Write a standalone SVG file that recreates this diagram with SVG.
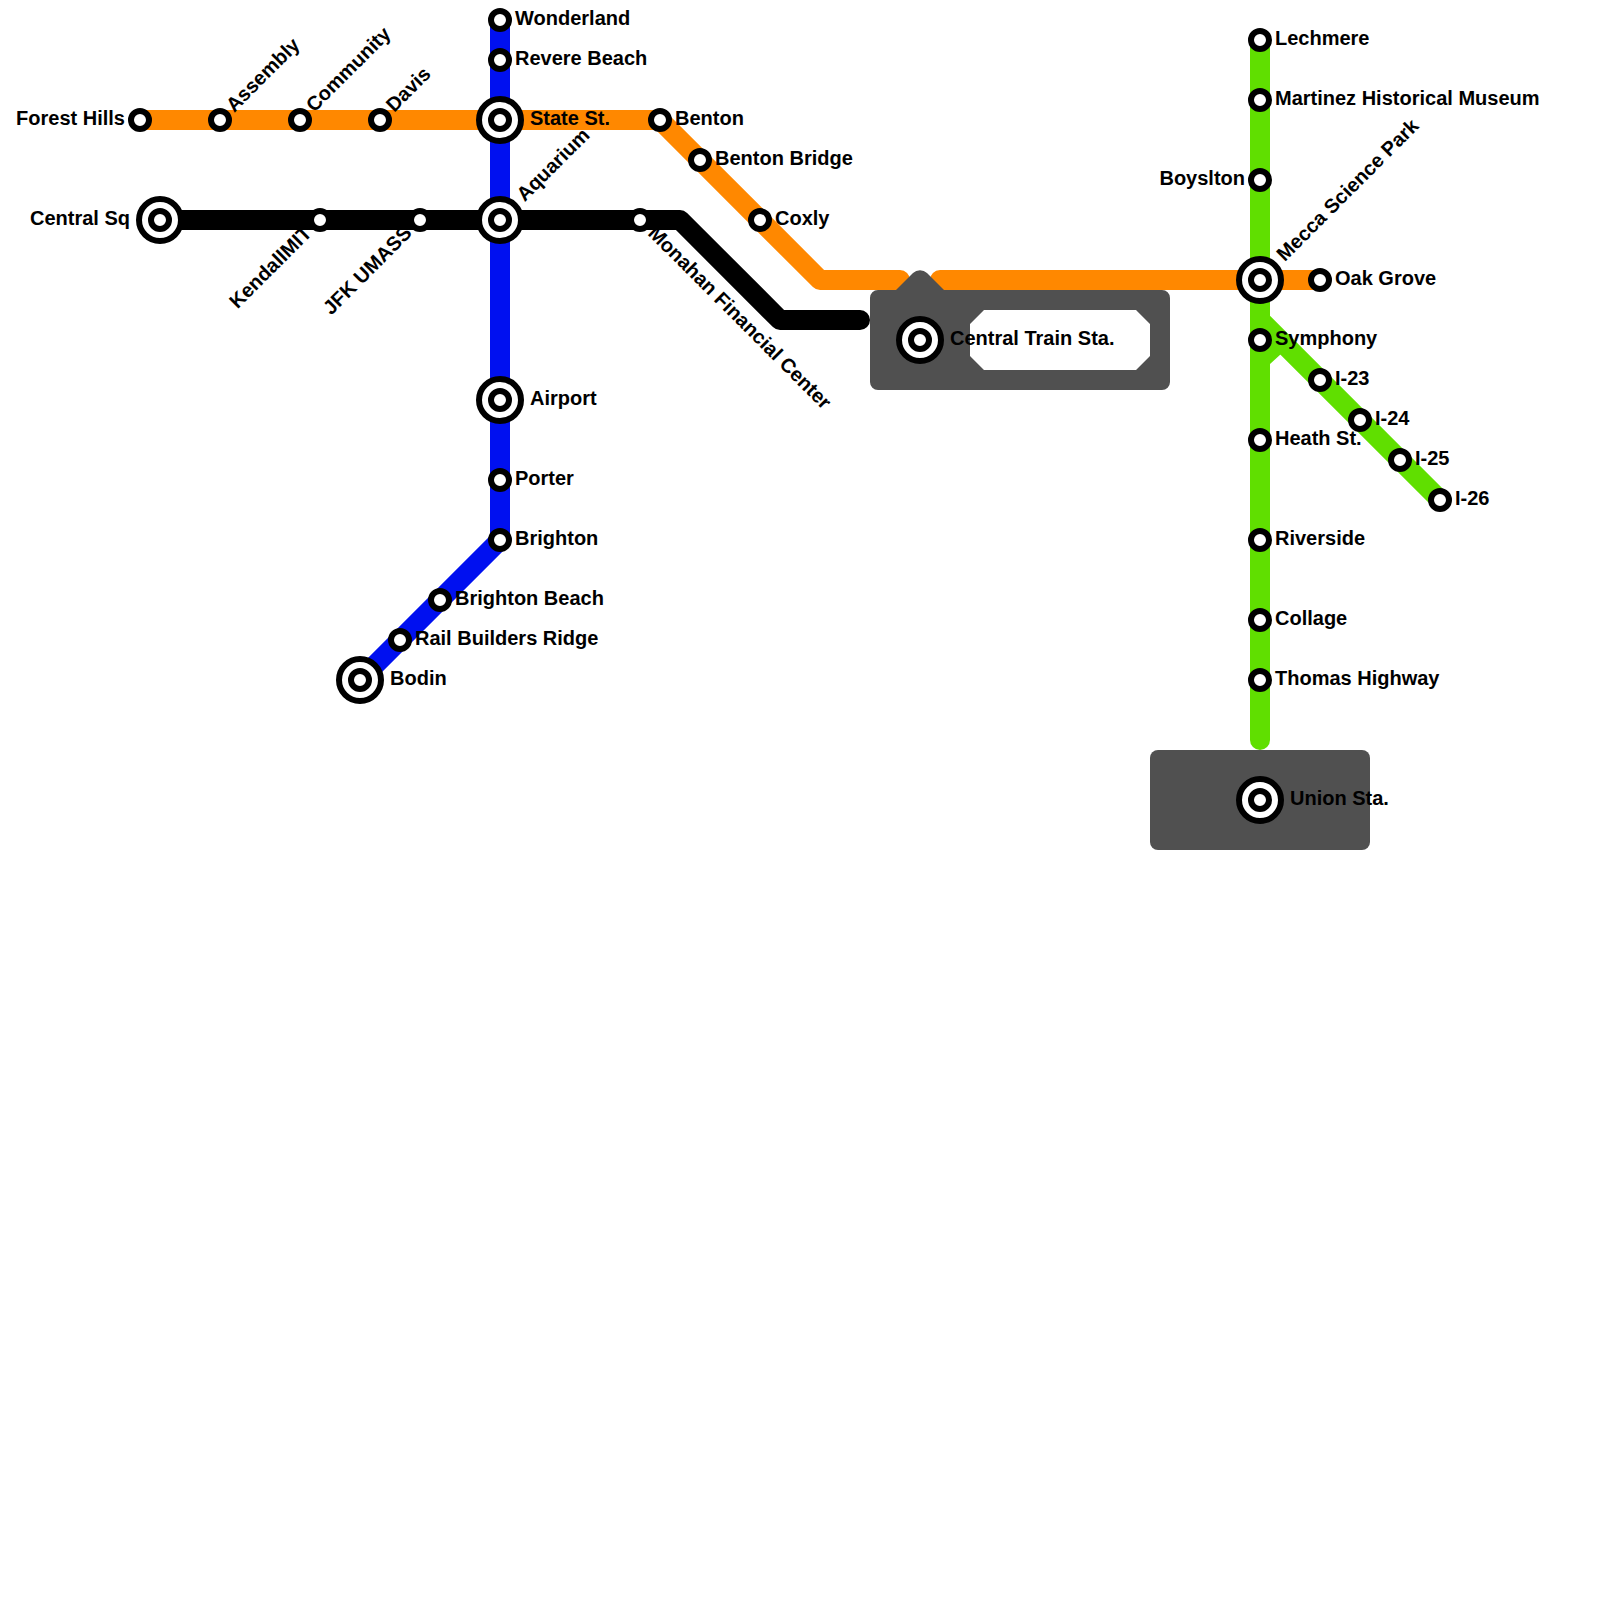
<svg xmlns="http://www.w3.org/2000/svg" width="1600" height="1600" viewBox="0 0 1600 1600">
<style>
.l{fill:none;stroke-width:20;stroke-linecap:round;stroke-linejoin:round}
.o{stroke:#ff8800}.k{stroke:#000}.b{stroke:#0010f0}.g{stroke:#60df00}
.s{fill:#fff;stroke:#000;stroke-width:6}
.r{fill:#fff;stroke:#000;stroke-width:6}
.h{fill:#505050}
text{font-family:"Liberation Sans",Arial,sans-serif;font-weight:700;font-size:20px;fill:#000}
.e{text-anchor:end}
</style>
<defs>
<g id="st"><circle class="s" r="9"/></g>
<g id="ic"><circle class="r" r="21"/><circle class="s" r="9"/></g>
</defs>
<rect width="1600" height="1600" fill="#fff"/>
<g id="connectors">
<path class="l o" d="M140 120H660L820 280H900M940 280H1320"/>
<path class="l k" d="M160 220H680L780 320H860"/>
<path class="l b" d="M500 20V540L360 680"/>
<path class="l g" d="M1260 40V740"/>
<path class="l g" d="M1260 320L1440 500" stroke-linecap="butt"/>
<path fill="#60df00" d="M1268 340H1270V364L1281 354Z"/>
</g>
<g id="hub-central"><path class="h" fill-rule="evenodd" d="M896 290L913 273A10 10 0 0 1 927 273L944 290H1162A8 8 0 0 1 1170 298V382A8 8 0 0 1 1162 390H878A8 8 0 0 1 870 382V298A8 8 0 0 1 878 290ZM984 310L970 324V356L984 370H1136L1150 356V324L1136 310Z"/></g>
<g id="hub-union"><rect class="h" x="1150" y="750" width="220" height="100" rx="8"/></g>
<g id="forest-hills"><use href="#st" x="140" y="120"/><text class="e" x="125" y="125">Forest Hills</text></g>
<g id="assembly"><use href="#st" x="220" y="120"/><text transform="rotate(-45 220 120)" x="235" y="125">Assembly</text></g>
<g id="community"><use href="#st" x="300" y="120"/><text transform="rotate(-45 300 120)" x="315" y="125">Community</text></g>
<g id="davis"><use href="#st" x="380" y="120"/><text transform="rotate(-45 380 120)" x="395" y="125">Davis</text></g>
<g id="state-st"><use href="#ic" x="500" y="120"/><text x="530" y="125">State St.</text></g>
<g id="benton"><use href="#st" x="660" y="120"/><text x="675" y="125">Benton</text></g>
<g id="benton-bridge"><use href="#st" x="700" y="160"/><text x="715" y="165">Benton Bridge</text></g>
<g id="coxly"><use href="#st" x="760" y="220"/><text x="775" y="225">Coxly</text></g>
<g id="central-sq"><use href="#ic" x="160" y="220"/><text class="e" x="130" y="225">Central Sq</text></g>
<g id="kendall"><use href="#st" x="320" y="220"/><text class="e" transform="rotate(-45 320 220)" x="305" y="225">KendallMIT</text></g>
<g id="jfk"><use href="#st" x="420" y="220"/><text class="e" transform="rotate(-45 420 220)" x="405" y="225">JFK UMASS</text></g>
<g id="aquarium"><use href="#ic" x="500" y="220"/><text transform="rotate(-45 500 220)" x="530" y="225">Aquarium</text></g>
<g id="monahan"><use href="#st" x="640" y="220"/><text transform="rotate(45 640 220)" x="655" y="225">Monahan Financial Center</text></g>
<g id="wonderland"><use href="#st" x="500" y="20"/><text x="515" y="25">Wonderland</text></g>
<g id="revere-beach"><use href="#st" x="500" y="60"/><text x="515" y="65">Revere Beach</text></g>
<g id="airport"><use href="#ic" x="500" y="400"/><text x="530" y="405">Airport</text></g>
<g id="porter"><use href="#st" x="500" y="480"/><text x="515" y="485">Porter</text></g>
<g id="brighton"><use href="#st" x="500" y="540"/><text x="515" y="545">Brighton</text></g>
<g id="brighton-beach"><use href="#st" x="440" y="600"/><text x="455" y="605">Brighton Beach</text></g>
<g id="rail-builders"><use href="#st" x="400" y="640"/><text x="415" y="645">Rail Builders Ridge</text></g>
<g id="bodin"><use href="#ic" x="360" y="680"/><text x="390" y="685">Bodin</text></g>
<g id="central-train"><use href="#ic" x="920" y="340"/><text x="950" y="345">Central Train Sta.</text></g>
<g id="lechmere"><use href="#st" x="1260" y="40"/><text x="1275" y="45">Lechmere</text></g>
<g id="martinez"><use href="#st" x="1260" y="100"/><text x="1275" y="105">Martinez Historical Museum</text></g>
<g id="boylston"><use href="#st" x="1260" y="180"/><text class="e" x="1245" y="185">Boyslton</text></g>
<g id="mecca"><use href="#ic" x="1260" y="280"/><text transform="rotate(-45 1260 280)" x="1290" y="285">Mecca Science Park</text></g>
<g id="oak-grove"><use href="#st" x="1320" y="280"/><text x="1335" y="285">Oak Grove</text></g>
<g id="symphony"><use href="#st" x="1260" y="340"/><text x="1275" y="345">Symphony</text></g>
<g id="i-23"><use href="#st" x="1320" y="380"/><text x="1335" y="385">I-23</text></g>
<g id="i-24"><use href="#st" x="1360" y="420"/><text x="1375" y="425">I-24</text></g>
<g id="i-25"><use href="#st" x="1400" y="460"/><text x="1415" y="465">I-25</text></g>
<g id="i-26"><use href="#st" x="1440" y="500"/><text x="1455" y="505">I-26</text></g>
<g id="heath"><use href="#st" x="1260" y="440"/><text x="1275" y="445">Heath St.</text></g>
<g id="riverside"><use href="#st" x="1260" y="540"/><text x="1275" y="545">Riverside</text></g>
<g id="collage"><use href="#st" x="1260" y="620"/><text x="1275" y="625">Collage</text></g>
<g id="thomas"><use href="#st" x="1260" y="680"/><text x="1275" y="685">Thomas Highway</text></g>
<g id="union"><use href="#ic" x="1260" y="800"/><text x="1290" y="805">Union Sta.</text></g>
</svg>
